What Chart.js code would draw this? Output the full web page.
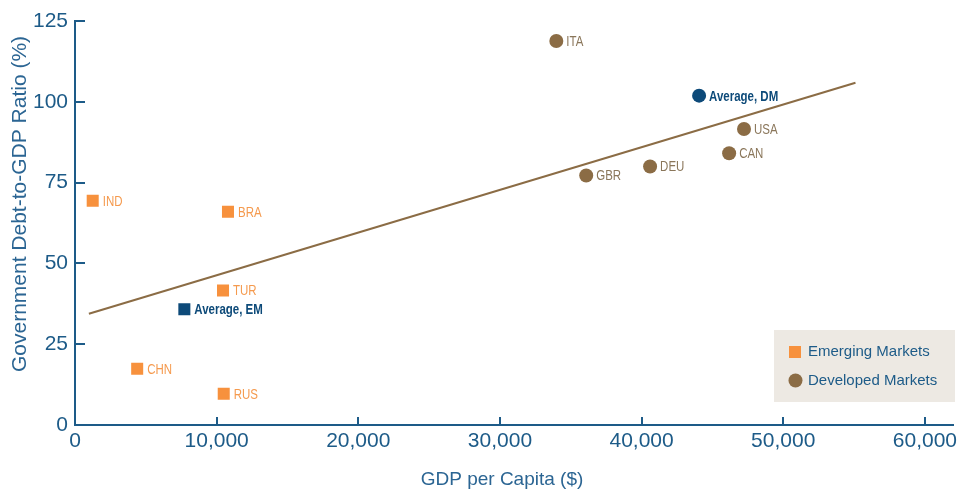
<!DOCTYPE html>
<html>
<head>
<meta charset="utf-8">
<script src="https://cdn.jsdelivr.net/npm/chart.js@4/dist/chart.umd.min.js"></script>
<style>
  html, body { margin: 0; padding: 0; background: #ffffff; }
  #wrap { width: 961px; height: 489px; position: relative; }
</style>
</head>
<body>
<div id="wrap"><canvas id="c" width="961" height="489"></canvas></div>
<script>
// Emerging markets: GDP per capita ($) and government debt-to-GDP (%)
const emCodes = ['IND', 'BRA', 'TUR', 'CHN', 'RUS'];
const emGdp   = [1250, 10800, 10450, 4390, 10500];
const emDebt  = [69.4, 66.0, 41.6, 17.4, 9.7];

// Developed markets
const dmCodes = ['ITA', 'USA', 'CAN', 'DEU', 'GBR'];
const dmGdp   = [33980, 47230, 46180, 40600, 36090];
const dmDebt  = [118.8, 91.6, 84.1, 80.0, 77.2];

// Group averages
const avgLabels = ['Average, EM', 'Average, DM'];
const avgGdp    = [7720, 44060];
const avgDebt   = [35.8, 101.9];

// Fitted trend line end points
const trendGdp  = [980, 55100];
const trendDebt = [34.4, 105.9];

// Axis ticks and titles
const xTicks = [0, 10000, 20000, 30000, 40000, 50000, 60000];
const yTicks = [0, 25, 50, 75, 100, 125];
const xTitle = 'GDP per Capita ($)';
const yTitle = 'Government Debt-to-GDP Ratio (%)';

const ORANGE = '#f7913d';
const BROWN = '#8b6c45';
const NAVY = '#0d4a79';
const AXIS = '#1d5b88';
const TITLE = '#2b6593';
const SANS = '"Liberation Sans", Arial, Helvetica, sans-serif';

const toPts = (xs, ys) => xs.map((x, i) => ({ x, y: ys[i] }));

const datasets = [
  {
    label: 'Emerging Markets', type: 'scatter',
    data: toPts(emGdp, emDebt), codes: emCodes, textColor: '#f59a4e',
    pointStyle: 'rect', pointRadius: 8.5, backgroundColor: ORANGE, borderWidth: 0
  },
  {
    label: 'Developed Markets', type: 'scatter',
    data: toPts(dmGdp, dmDebt), codes: dmCodes, textColor: '#8a765a',
    pointStyle: 'circle', pointRadius: 7, backgroundColor: BROWN, borderWidth: 0
  },
  {
    label: 'Average, EM', type: 'scatter',
    data: [{ x: avgGdp[0], y: avgDebt[0] }], codes: [avgLabels[0]], textColor: NAVY, bold: true,
    pointStyle: 'rect', pointRadius: 8.5, backgroundColor: NAVY, borderWidth: 0
  },
  {
    label: 'Average, DM', type: 'scatter',
    data: [{ x: avgGdp[1], y: avgDebt[1] }], codes: [avgLabels[1]], textColor: NAVY, bold: true,
    pointStyle: 'circle', pointRadius: 7, backgroundColor: NAVY, borderWidth: 0
  },
  {
    label: 'Trend', type: 'line',
    data: toPts(trendGdp, trendDebt),
    borderColor: BROWN, borderWidth: 2, pointRadius: 0, fill: false
  }
];

// Point labels (condensed), axis titles, inward tick marks and the legend panel
const decorations = {
  id: 'decorations',
  afterDatasetsDraw(chart) {
    const ctx = chart.ctx;
    chart.data.datasets.forEach((ds, di) => {
      if (!ds.codes) return;
      const meta = chart.getDatasetMeta(di);
      meta.data.forEach((el, i) => {
        ctx.save();
        ctx.translate(el.x + 10, el.y + 1);
        ctx.scale(0.82, 1);
        ctx.font = (ds.bold ? 'bold ' : '') + '14px ' + SANS;
        ctx.fillStyle = ds.textColor;
        ctx.textAlign = 'left';
        ctx.textBaseline = 'middle';
        ctx.fillText(ds.codes[i], 0, 0);
        ctx.restore();
      });
    });
  },
  afterDraw(chart) {
    const ctx = chart.ctx;
    const xs = chart.scales.x, ys = chart.scales.y;
    ctx.save();
    ctx.strokeStyle = AXIS;
    ctx.lineWidth = 2;
    const base = ys.getPixelForValue(0);
    const left = xs.getPixelForValue(0);
    xTicks.forEach(v => {
      if (v === 0) return;
      const px = Math.round(xs.getPixelForValue(v));
      ctx.beginPath(); ctx.moveTo(px, base); ctx.lineTo(px, base - 8); ctx.stroke();
    });
    yTicks.forEach(v => {
      if (v === 0) return;
      const py = Math.round(ys.getPixelForValue(v));
      ctx.beginPath(); ctx.moveTo(left, py); ctx.lineTo(left + 10, py); ctx.stroke();
    });

    // axis titles
    ctx.fillStyle = TITLE;
    ctx.textAlign = 'center';
    ctx.textBaseline = 'alphabetic';
    ctx.font = '19px ' + SANS;
    ctx.fillText(xTitle, 502, 485);
    ctx.save();
    ctx.translate(26, 204);
    ctx.rotate(-Math.PI / 2);
    ctx.font = '21px ' + SANS;
    ctx.fillText(yTitle, 0, 0);
    ctx.restore();

    // legend panel
    const bx = 774, by = 330, bw = 181, bh = 72;
    ctx.fillStyle = '#ede9e3';
    ctx.fillRect(bx, by, bw, bh);
    ctx.font = '15px ' + SANS;
    ctx.textAlign = 'left';
    ctx.textBaseline = 'middle';
    const em = chart.data.datasets[0], dm = chart.data.datasets[1];
    ctx.fillStyle = ORANGE;
    ctx.fillRect(789, 346, 12, 12);
    ctx.fillStyle = AXIS;
    ctx.fillText(em.label, 808, 352);
    ctx.fillStyle = BROWN;
    ctx.beginPath(); ctx.arc(795.5, 380.5, 7, 0, Math.PI * 2); ctx.fill();
    ctx.fillStyle = AXIS;
    ctx.fillText(dm.label, 808, 381);
    ctx.restore();
  }
};

new Chart(document.getElementById('c'), {
  data: { datasets },
  options: {
    responsive: false,
    animation: false,
    layout: { autoPadding: false, padding: { top: 21, right: 0, left: 0, bottom: 0 } },
    plugins: { legend: { display: false }, tooltip: { enabled: false } },
    scales: {
      x: {
        type: 'linear', min: 0, max: 62040,
        afterBuildTicks: s => { s.ticks = xTicks.map(v => ({ value: v })); },
        afterFit: s => { s.height = 64; },
        grid: { display: false, drawTicks: false },
        border: { display: true, color: AXIS, width: 2 },
        ticks: {
          padding: 4, color: AXIS,
          font: { family: SANS, size: 21 },
          callback: v => v.toLocaleString('en-US'),
          maxRotation: 0
        },
        title: { display: false }
      },
      y: {
        type: 'linear', min: 0, max: 125,
        afterBuildTicks: s => { s.ticks = yTicks.map(v => ({ value: v })); },
        afterFit: s => { s.width = 75; },
        grid: { display: false, drawTicks: false },
        border: { display: true, color: AXIS, width: 2 },
        ticks: {
          padding: 7, color: AXIS,
          font: { family: SANS, size: 21 }
        },
        title: { display: false }
      }
    }
  },
  plugins: [decorations]
});
</script>
</body>
</html>
